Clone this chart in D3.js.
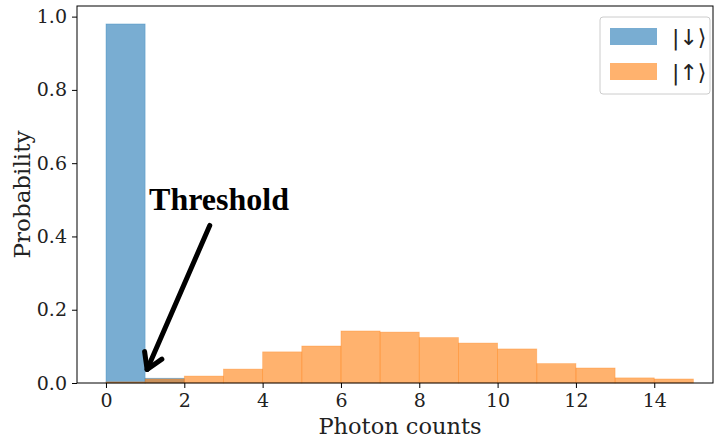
<!DOCTYPE html>
<html>
<head>
<meta charset="utf-8">
<script src="https://cdn.jsdelivr.net/npm/d3@7"></script>
<style>
  body { margin: 0; background: #fff; }
  svg text { font-family: "DejaVu Serif", "Liberation Serif", serif; fill: #222; }
  .tick text { font-size: 19px; }
  .tick line { stroke: #000; }
  .domain { display: none; }
</style>
</head>
<body>
<div id="chart"></div>
<script>
// bin edges are integers, each bin [k, k+1)
var binStarts = [0, 1, 2, 3, 4, 5, 6, 7, 8, 9, 10, 11, 12, 13, 14];
var downProb = [0.98, 0.013, 0, 0, 0, 0, 0, 0, 0, 0, 0, 0, 0, 0, 0];
var upProb = [0.003, 0.011, 0.019, 0.038, 0.085, 0.101, 0.142, 0.139, 0.124, 0.109, 0.093, 0.053, 0.041, 0.014, 0.011];
var xTicks = [0, 2, 4, 6, 8, 10, 12, 14];
var yTicks = [0, 0.2, 0.4, 0.6, 0.8, 1.0];
var legendLabels = ["|\u2193\u27E9", "|\u2191\u27E9"];

var width = 714, height = 445;
var margin = { top: 6, right: 1, bottom: 62, left: 77 };

var svg = d3.select("#chart").append("svg")
  .attr("width", width)
  .attr("height", height);

var x = d3.scaleLinear().domain([-0.74, 15.5]).range([margin.left, width - margin.right]);
var y = d3.scaleLinear().domain([0, 1.029]).range([height - margin.bottom, margin.top]);

var series = [
  { name: "down", values: downProb, color: "#1f77b4" },
  { name: "up", values: upProb, color: "#ff7f0e" }
];

series.forEach(function (s) {
  svg.append("g").selectAll("rect")
    .data(binStarts.filter(function (b, i) { return s.values[i] > 0; }))
    .enter().append("rect")
      .attr("x", function (b) { return x(b); })
      .attr("width", function (b) { return x(b + 1) - x(b); })
      .attr("y", function (b) { return y(s.values[binStarts.indexOf(b)]); })
      .attr("height", function (b) { return y(0) - y(s.values[binStarts.indexOf(b)]); })
      .attr("fill", s.color)
      .attr("fill-opacity", 0.6)
      .attr("stroke", s.color)
      .attr("stroke-opacity", 0.35)
      .attr("stroke-width", 0.8);
});

// frame
svg.append("rect")
  .attr("x", x.range()[0]).attr("y", y.range()[1])
  .attr("width", x.range()[1] - x.range()[0])
  .attr("height", y.range()[0] - y.range()[1])
  .attr("fill", "none").attr("stroke", "#000").attr("stroke-width", 1);

svg.append("g")
  .attr("transform", "translate(0," + y(0) + ")")
  .call(d3.axisBottom(x).tickValues(xTicks).tickSize(5).tickPadding(6).tickFormat(d3.format("d")));

svg.append("g")
  .attr("transform", "translate(" + x.range()[0] + ",0)")
  .call(d3.axisLeft(y).tickValues(yTicks).tickSize(5).tickPadding(5).tickFormat(d3.format(".1f")));

svg.append("text")
  .attr("x", 400)
  .attr("y", 434)
  .attr("text-anchor", "middle")
  .style("font-size", "22.5px")
  .text("Photon counts");

svg.append("text")
  .attr("transform", "translate(30," + (y.range()[0] + y.range()[1]) / 2 + ") rotate(-90)")
  .attr("text-anchor", "middle")
  .style("font-size", "23px")
  .text("Probability");

// threshold annotation
var tip = { x: x(1.05), y: y(0.037) };
var tail = { x: x(2.65), y: y(0.43) };
svg.append("text")
  .attr("x", x(1.1))
  .attr("y", y(0.472))
  .style("font-family", "'Liberation Serif', 'Times New Roman', serif")
  .style("font-weight", "bold")
  .style("font-size", "32px")
  .style("fill", "#000")
  .text("Threshold");

svg.append("line")
  .attr("x1", tail.x).attr("y1", tail.y)
  .attr("x2", tip.x).attr("y2", tip.y)
  .attr("stroke", "#000").attr("stroke-width", 5).attr("stroke-linecap", "round");

var ang = Math.atan2(tip.y - tail.y, tip.x - tail.x);
var headLen = 18, spread = 0.55;
var headPath = d3.path();
headPath.moveTo(tip.x - headLen * Math.cos(ang - spread), tip.y - headLen * Math.sin(ang - spread));
headPath.lineTo(tip.x, tip.y);
headPath.lineTo(tip.x - headLen * Math.cos(ang + spread), tip.y - headLen * Math.sin(ang + spread));
svg.append("path")
  .attr("d", headPath.toString())
  .attr("fill", "none").attr("stroke", "#000").attr("stroke-width", 5)
  .attr("stroke-linecap", "round").attr("stroke-linejoin", "round");

// legend
var legend = svg.append("g").attr("transform", "translate(600,17)");
legend.append("rect")
  .attr("width", 110).attr("height", 77).attr("rx", 3)
  .attr("fill", "#fff").attr("fill-opacity", 0.8)
  .attr("stroke", "#ccc").attr("stroke-width", 1);

series.forEach(function (s, i) {
  var row = legend.append("g").attr("transform", "translate(10," + (11 + i * 35) + ")");
  row.append("rect")
    .attr("width", 47).attr("height", 17)
    .attr("fill", s.color).attr("fill-opacity", 0.6);
  row.append("text")
    .attr("x", 62).attr("y", 17)
    .style("font-family", "'DejaVu Sans', sans-serif")
    .style("font-size", "22px")
    .text(legendLabels[i]);
});
</script>
</body>
</html>
